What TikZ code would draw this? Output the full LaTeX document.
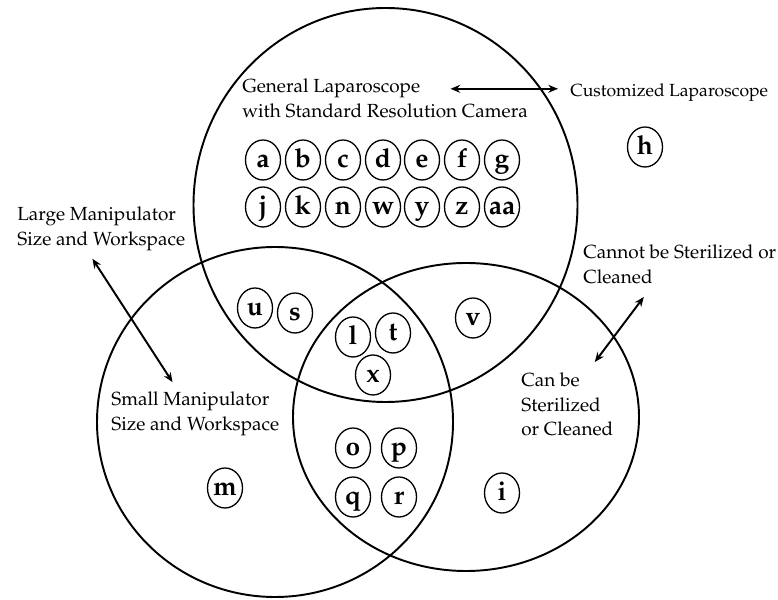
\documentclass[tikz,border=0pt]{standalone}
\usepackage[T1]{fontenc}
\usepackage{mathpazo}
\usetikzlibrary{shapes.geometric,arrows.meta}

\begin{document}
\begin{tikzpicture}[
    >={Stealth[length=5.5pt,width=4.5pt]},
    set/.style={line width=1.1pt},
    link/.style={<->, line width=1.1pt},
    item/.style={draw, ellipse, line width=0.75pt, minimum width=0.7cm, minimum height=0.8cm, inner sep=0pt, text height=11pt, text depth=2pt, font=\fontsize{15}{18}\selectfont\bfseries},
    lbl/.style={inner sep=0pt, align=left, font=\fontsize{10.8}{14.2}\selectfont}
  ]
  \useasboundingbox (0, 0) rectangle (15.56, 11.98);
  \draw[set] (7.71, 7.88) ellipse (3.84 and 3.94);
  \draw[set] (5.50, 3.54) ellipse (3.56 and 3.50);
  \draw[set] (9.32, 3.64) ellipse (3.46 and 3.08);

  \node[item] (a) at (5.26, 8.78) {a};
  \node[item] (b) at (6.06, 8.78) {b};
  \node[item] (c) at (6.86, 8.78) {c};
  \node[item] (d) at (7.66, 8.78) {d};
  \node[item] (e) at (8.44, 8.78) {e};
  \node[item] (f) at (9.24, 8.78) {f};
  \node[item] (g) at (10.04, 8.78) {g};
  \node[item] (j) at (5.26, 7.84) {j};
  \node[item] (k) at (6.06, 7.84) {k};
  \node[item] (n) at (6.86, 7.84) {n};
  \node[item] (w) at (7.66, 7.84) {w};
  \node[item] (y) at (8.44, 7.84) {y};
  \node[item] (z) at (9.24, 7.84) {z};
  \node[item, inner xsep=-4pt] (aa) at (10.04, 7.84) {aa};
  \node[item] (h) at (12.90, 9.04) {h};
  \node[item] (u) at (5.10, 5.82) {u};
  \node[item] (s) at (5.90, 5.72) {s};
  \node[item] (l) at (7.06, 5.24) {l};
  \node[item] (t) at (7.86, 5.32) {t};
  \node[item] (x) at (7.46, 4.48) {x};
  \node[item] (v) at (9.46, 5.62) {v};
  \node[item] (o) at (7.06, 3.02) {o};
  \node[item] (p) at (7.98, 3.02) {p};
  \node[item] (q) at (7.06, 2.04) {q};
  \node[item] (r) at (7.98, 2.04) {r};
  \node[item] (i) at (10.04, 2.12) {i};
  \node[item] (m) at (4.50, 2.22) {m};

  \node[lbl, anchor=base west] (gen) at (4.84, 10.12) {General Laparoscope};
  \node[lbl, anchor=base west] (gencam) at (4.84, 9.62) {with Standard Resolution Camera};
  \node[lbl, anchor=base west, font=\fontsize{10}{14.2}\selectfont] (cust) at (11.40, 10.04) {Customized Laparoscope};
  \node[lbl, anchor=north west] (large) at (0.34, 7.86) {Large Manipulator\\Size and Workspace};
  \node[lbl, anchor=north west] (small) at (2.22, 4.16) {Small Manipulator\\Size and Workspace};
  \node[lbl, anchor=north west] (cannot) at (11.66, 7.10) {Cannot be Sterilized or\\Cleaned};
  \node[lbl, anchor=north west] (can) at (10.42, 4.54) {Can be\\Sterilized\\or Cleaned};

  \draw[link, shorten <=0.6cm, shorten >=0.24cm] (gen.east) -- (gen.east -| cust.west);
  \draw[link, shorten <=0.19cm, shorten >=0.21cm] ([xshift=-0.28cm]large.south) -- ([xshift=-0.34cm]small.north);
  \draw[link, shorten <=0.33cm, shorten >=0.25cm] ([xshift=-0.52cm]cannot.south) -- ([xshift=0.4cm]can.north);
\end{tikzpicture}
\end{document}
